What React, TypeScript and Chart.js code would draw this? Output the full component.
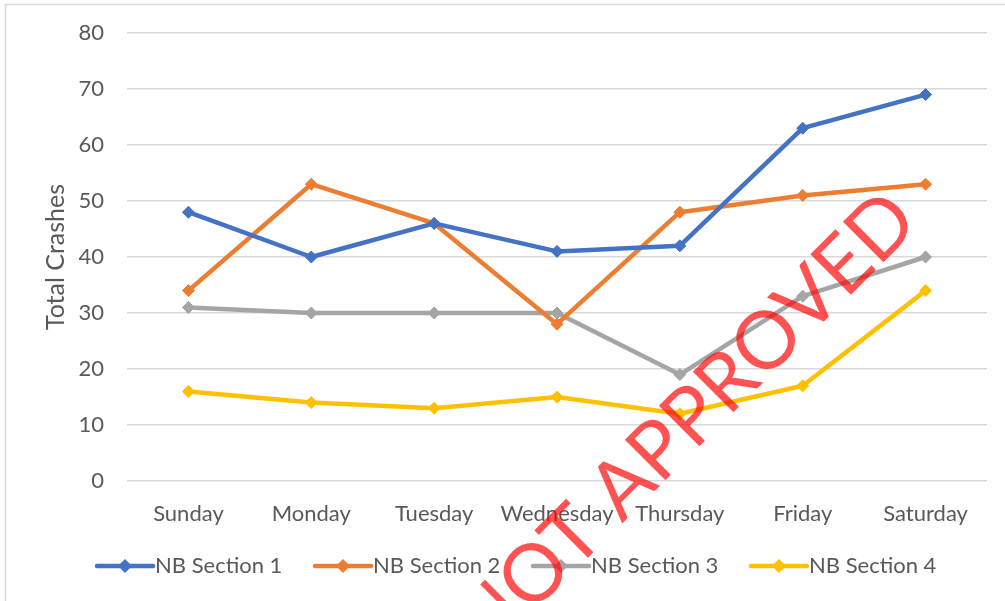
import React, { useEffect, useRef } from "react";
import { Chart, registerables } from "chart.js";

Chart.register(...registerables);

const categories = ["Sunday", "Monday", "Tuesday", "Wednesday", "Thursday", "Friday", "Saturday"];
const seriesNames = ["NB Section 1", "NB Section 2", "NB Section 3", "NB Section 4"];
const section1 = [48, 40, 46, 41, 42, 63, 69];
const section2 = [34, 53, 46, 28, 48, 51, 53];
const section3 = [31, 30, 30, 30, 19, 33, 40];
const section4 = [16, 14, 13, 15, 12, 17, 34];
const seriesColors = ["#4472C4", "#ED7D31", "#A5A5A5", "#FFC000"];
const yTickMin = 0;
const yTickMax = 80;
const yTickStep = 10;
const yTitle = "Total Crashes";
const watermark = "NOT APPROVED";

const FONT = "Lato, 'Open Sans', sans-serif";
const TEXT_COLOR = "#595959";

const decorPlugin = {
  id: "decor",
  beforeDraw(chart: any) {
    const ctx = chart.ctx;
    ctx.save();
    ctx.fillStyle = "#ffffff";
    ctx.fillRect(0, 0, chart.width, chart.height);
    ctx.strokeStyle = "#d9d9d9";
    ctx.lineWidth = 1.5;
    ctx.strokeRect(5.5, 4.5, 1200, 1200);
    ctx.restore();
  },
  afterDraw(chart: any) {
    const ctx = chart.ctx;
    ctx.save();
    // legend
    chart.data.datasets.forEach((ds: any, i: number) => {
      const x0 = 97 + i * 218;
      const y = 566;
      ctx.strokeStyle = ds.borderColor;
      ctx.lineWidth = 4.5;
      ctx.lineCap = "round";
      ctx.beginPath();
      ctx.moveTo(x0, y);
      ctx.lineTo(x0 + 56, y);
      ctx.stroke();
      ctx.fillStyle = ds.borderColor;
      const cx = x0 + 28;
      const r = 7;
      ctx.beginPath();
      ctx.moveTo(cx - r, y);
      ctx.lineTo(cx, y - r);
      ctx.lineTo(cx + r, y);
      ctx.lineTo(cx, y + r);
      ctx.closePath();
      ctx.fill();
      ctx.fillStyle = TEXT_COLOR;
      ctx.font = `22px ${FONT}`;
      ctx.textAlign = "left";
      ctx.textBaseline = "middle";
      ctx.fillText(ds.label, x0 + 58, y);
    });
    // watermark
    const fs = 80;
    ctx.translate(684, 421);
    ctx.rotate(-Math.PI / 4);
    ctx.font = `400 ${fs}px ${FONT}`;
    ctx.fillStyle = "rgba(255,0,0,0.68)";
    ctx.textAlign = "center";
    ctx.textBaseline = "alphabetic";
    ctx.fillText(watermark, 0, 0.36 * fs);
    ctx.restore();
  },
};

export default function App() {
  const ref = useRef<HTMLCanvasElement | null>(null);

  useEffect(() => {
    if (!ref.current) return;
    const data = [section1, section2, section3, section4];
    const chart = new Chart(ref.current, {
      type: "line",
      data: {
        labels: categories,
        datasets: data.map((d, i) => ({
          label: seriesNames[i],
          data: d,
          borderColor: seriesColors[i],
          backgroundColor: seriesColors[i],
          borderWidth: 4.5,
          borderJoinStyle: "round",
          borderCapStyle: "round",
          pointStyle: "rectRot",
          pointRadius: 6,
          pointBorderWidth: 1,
          pointBorderColor: seriesColors[i],
          pointBackgroundColor: seriesColors[i],
          tension: 0,
        })),
      },
      options: {
        animation: false,
        responsive: false,
        maintainAspectRatio: false,
        layout: { padding: { left: 0, top: 33, right: 18, bottom: 70 } },
        plugins: {
          legend: { display: false },
          tooltip: { enabled: false },
        },
        scales: {
          x: {
            offset: true,
            grid: { display: false },
            border: { display: false },
            ticks: {
              color: TEXT_COLOR,
              font: { family: FONT, size: 22 },
              padding: 12,
              maxRotation: 0,
              autoSkip: false,
            },
            afterFit: (s: any) => {
              s.height = 50;
            },
          },
          y: {
            min: yTickMin,
            max: yTickMax,
            ticks: {
              stepSize: yTickStep,
              color: TEXT_COLOR,
              font: { family: FONT, size: 22, lineHeight: 0.4 },
              padding: 23,
            },
            grid: { color: "#d9d9d9", lineWidth: 1.5, drawTicks: false },
            border: { display: false },
            title: {
              display: true,
              text: yTitle,
              color: TEXT_COLOR,
              font: { family: FONT, size: 25 },
              padding: { top: 41, bottom: 0 },
            },
            afterFit: (s: any) => {
              s.width = 127;
            },
          },
        },
      },
      plugins: [decorPlugin],
    } as any);
    return () => chart.destroy();
  }, []);

  return (
    <div style={{ position: "fixed", left: 0, top: 0, width: 1005, height: 601, background: "#fff" }}>
      <canvas ref={ref} width={1005} height={601} style={{ display: "block", width: 1005, height: 601 }} />
    </div>
  );
}
